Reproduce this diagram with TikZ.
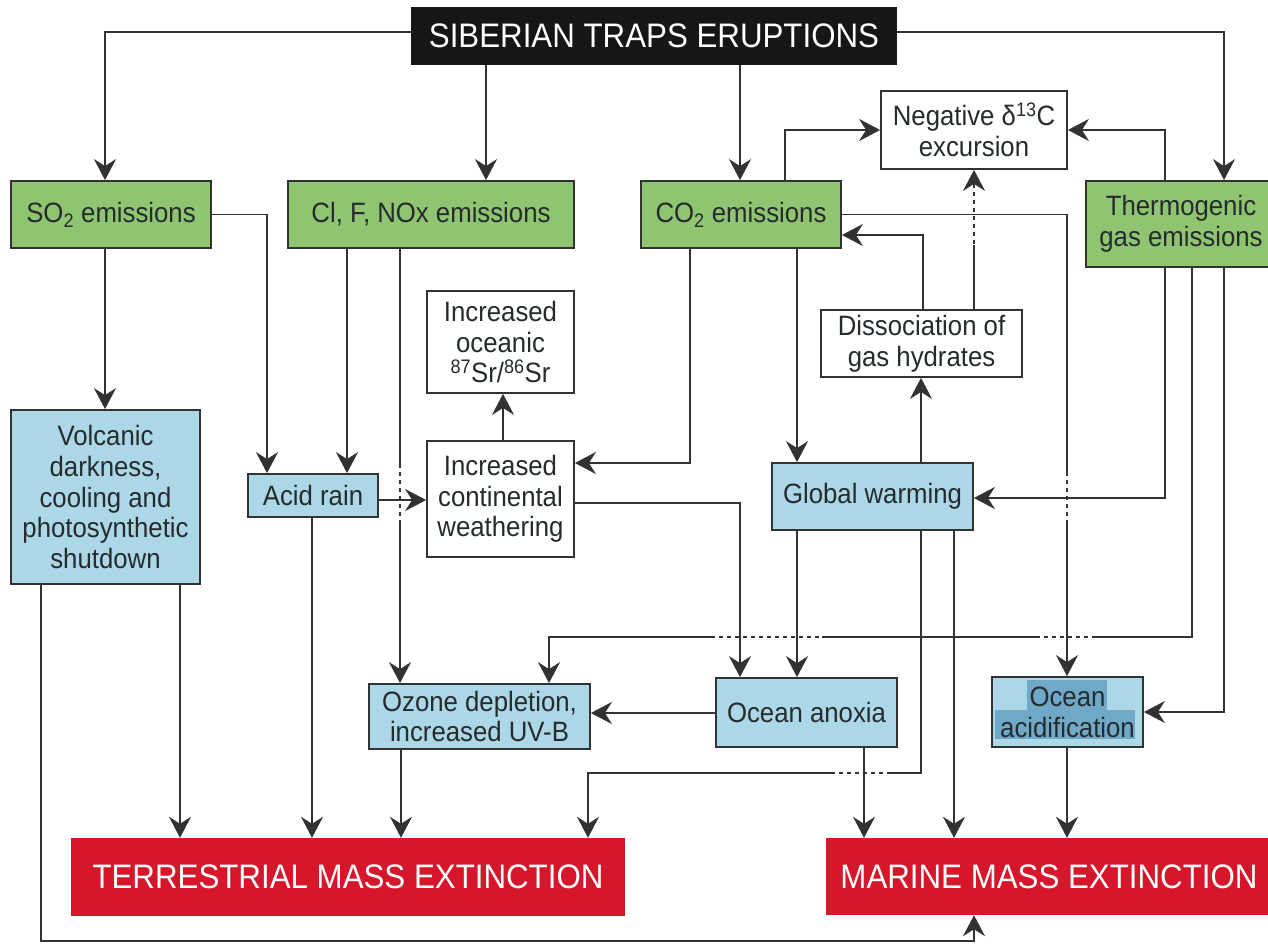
\documentclass[tikz,border=0pt]{standalone}
\usepackage{fontspec}
\setmainfont{Liberation Sans}[FakeStretch=0.92]
\usetikzlibrary{arrows.meta}
\definecolor{gfill}{RGB}{143,196,112}
\definecolor{bfill}{RGB}{172,215,230}
\definecolor{bdark}{RGB}{112,168,200}
\definecolor{rfill}{RGB}{214,22,42}
\definecolor{ln}{RGB}{50,50,50}
\definecolor{txt}{RGB}{38,44,46}
\definecolor{tfill}{RGB}{22,22,22}
\begin{document}
\begin{tikzpicture}[x=1pt,y=-1pt,
  font=\fontsize{28}{30.7}\selectfont,
  box/.style={draw=ln, line width=1.8pt, align=center, inner sep=0pt, text=txt},
  gbox/.style={box, fill=gfill},
  bbox/.style={box, fill=bfill},
  wbox/.style={box, fill=white},
  rbox/.style={fill=rfill, text=white, inner sep=0pt, font=\fontsize{34}{38}\selectfont},
  arr/.style={draw=ln, line width=1.8pt, -{Stealth[length=21pt,width=22pt,inset=7pt]}},
  gap/.style={draw=white, line width=3pt, dash pattern=on 4pt off 4pt}
]
\useasboundingbox[fill=white] (0,0) rectangle (1268,943);

% ---------- nodes ----------
\node[fill=tfill, text=white, inner sep=0pt, minimum width=486pt, minimum height=58pt,
      font=\fontsize{34}{38}\selectfont] (title) at (654,36) {SIBERIAN TRAPS ERUPTIONS};

\node[gbox, minimum width=200pt, minimum height=67pt] (so2) at (111,214.5) {SO\textsubscript{2} emissions};
\node[gbox, minimum width=286pt, minimum height=67pt] (cl) at (431,214.5) {Cl, F, NOx emissions};
\node[gbox, minimum width=200pt, minimum height=67pt] (co2) at (741,214.5) {CO\textsubscript{2} emissions};
\node[gbox, minimum width=190pt, minimum height=86pt] (thermo) at (1181,224) {Thermogenic\\gas emissions};

\node[wbox, minimum width=186pt, minimum height=78pt] (neg) at (974,130) {Negative δ\textsuperscript{13}C\\excursion};
\node[wbox, minimum width=201pt, minimum height=67pt] (diss) at (921.5,343.5) {Dissociation of\\gas hydrates};
\node[wbox, minimum width=147pt, minimum height=102pt] (oceanic) at (500.5,342) {Increased\\oceanic\\\textsuperscript{87}Sr/\textsuperscript{86}Sr};
\node[wbox, minimum width=147pt, minimum height=116pt] (weather) at (500.5,499) {Increased\\continental\\weathering};

\node[bbox, minimum width=189pt, minimum height=174pt] (volc) at (105.5,497) {Volcanic\\darkness,\\cooling and\\photosynthetic\\shutdown};
\node[bbox, minimum width=130pt, minimum height=43pt] (acid) at (313,495.5) {Acid rain};
\node[bbox, minimum width=201pt, minimum height=67pt] (gw) at (872.5,496.5) {Global warming};
\node[bbox, minimum width=221pt, minimum height=65pt] (ozone) at (479.5,716.5) {Ozone depletion,\\increased UV-B};
\node[bbox, minimum width=181pt, minimum height=69pt] (anoxia) at (806.5,712.5) {Ocean anoxia};
\node[bbox, minimum width=151pt, minimum height=70pt,
      path picture={
        \fill[bdark] ([shift={(-40.5,-32)}]path picture bounding box.center) rectangle ([shift={(39.5,-2)}]path picture bounding box.center);
        \fill[bdark] ([shift={(-72.5,-2)}]path picture bounding box.center) rectangle ([shift={(67.5,27)}]path picture bounding box.center);
      }] (acidif) at (1067.5,712) {Ocean\\acidification};

\node[rbox, minimum width=554pt, minimum height=78pt] (terr) at (348,877) {TERRESTRIAL MASS EXTINCTION};
\node[rbox, minimum width=446pt, minimum height=77pt] (marine) at (1049,876.5) {MARINE MASS EXTINCTION};

% ---------- connectors with crossing gaps (drawn first) ----------
\draw[arr] (diss.north -| neg.south) -- (neg.south);
\draw[gap] (974,188) -- (974,245);

\draw[arr] (thermo.south -| 1192,0) -- (1192,637) -- (549,637) -- (ozone.north -| 549,0);
\draw[gap] (715,637) -- (822,637);
\draw[gap] (1040,637) -- (1092,637);

\draw[arr] (co2.east) -| (acidif.north -| 1067,0);
\draw[gap] (1067,476) -- (1067,522);

\draw[arr] (cl.south -| 400,0) -- (ozone.north -| 400,0);
\draw[gap] (400,468) -- (400,522);

\draw[arr] (gw.south -| 921,0) -- (921,773) -- (588,773) -- (terr.north -| 588,0);
\draw[gap] (835,773) -- (890,773);

% ---------- remaining connectors ----------
\draw[arr] (title.west |- 0,32) -| (so2.north -| 105,0);
\draw[arr] (title.south -| 486,0) -- (cl.north -| 486,0);
\draw[arr] (title.south -| 740,0) -- (co2.north -| 740,0);
\draw[arr] (title.east |- 0,32) -| (thermo.north -| 1224,0);

\draw[arr] (co2.north -| 785,0) |- (neg.west);
\draw[arr] (thermo.north -| 1165,0) |- (neg.east);
\draw[arr] (diss.north -| 923,0) |- (co2.east |- 0,235);

\draw[arr] (co2.south -| 690,0) |- (weather.east |- 0,463);
\draw[arr] (co2.south -| 797,0) -- (gw.north -| 797,0);
\draw[arr] (gw.north -| 921,0) -- (diss.south -| 921,0);
\draw[arr] (thermo.south -| 1165,0) |- (gw.east |- 0,498);
\draw[arr] (thermo.south -| 1224,0) |- (acidif.east);

\draw[arr] (so2.south -| 105,0) -- (volc.north -| 105,0);
\draw[arr] (so2.east) -| (acid.north -| 267,0);
\draw[arr] (cl.south -| 347,0) -- (acid.north -| 347,0);
\draw[arr] (acid.east |- 0,500) -- (weather.west |- 0,500);
\draw[arr] (weather.north -| 503,0) -- (oceanic.south -| 503,0);
\draw[arr] (weather.east |- 0,503) -| (anoxia.north -| 740,0);

\draw[arr] (gw.south -| 797,0) -- (anoxia.north -| 797,0);
\draw[arr] (gw.south -| 954,0) -- (marine.north -| 954,0);
\draw[arr] (anoxia.west |- 0,713) -- (ozone.east |- 0,713);
\draw[arr] (anoxia.south -| 864,0) -- (marine.north -| 864,0);
\draw[arr] (acidif.south -| 1067,0) -- (marine.north -| 1067,0);

\draw[arr] (volc.south -| 180,0) -- (terr.north -| 180,0);
\draw[arr] (volc.south -| 41,0) -- (41,941) -| (marine.south -| 974,0);
\draw[arr] (acid.south -| 312,0) -- (terr.north -| 312,0);
\draw[arr] (ozone.south -| 401,0) -- (terr.north -| 401,0);
\end{tikzpicture}
\end{document}
